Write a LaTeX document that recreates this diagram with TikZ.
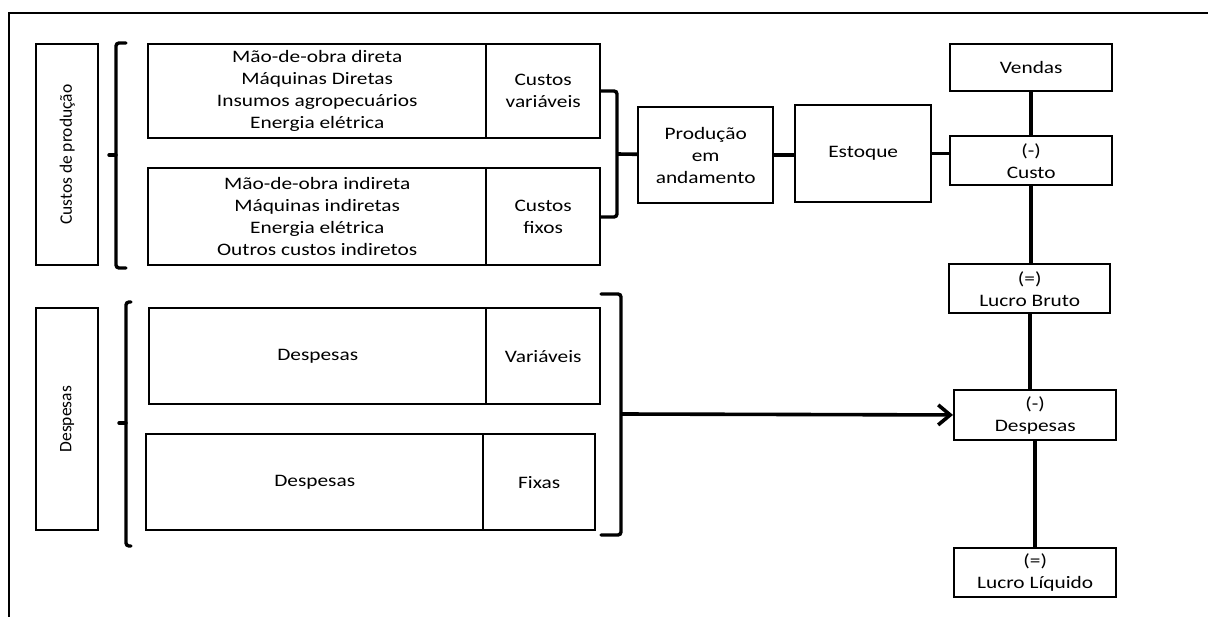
\documentclass[tikz,border=0pt]{standalone}
\usepackage{fontspec}
\setmainfont{Carlito}[FakeStretch=1.22]
\newfontfamily\rotfont{Carlito}
\usepackage{graphicx}
\usetikzlibrary{arrows.meta}
\begin{document}
\begin{tikzpicture}[x=1pt,y=-1pt,
  box/.style={draw, line width=2.4pt, inner sep=0pt, align=center, anchor=north west,
    font=\fontsize{17.5}{22}\selectfont},
  conn/.style={line width=3.6pt},
  brk/.style={line width=3.4pt, rounded corners=3pt, line cap=round}]
\useasboundingbox (0,0) rectangle (1208,617);
\draw[line width=1.5pt] (9,617) -- (9,13) -- (1208,13);
% left labels
\node[box, minimum width=62pt, minimum height=221pt] (cp) at (35,43) {\rotatebox{90}{\rotfont Custos de produção}};
\node[box, minimum width=62pt, minimum height=222pt] (dp) at (35,307) {\rotatebox{90}{\rotfont Despesas}};
% production cost boxes
\node[box, minimum width=338pt, minimum height=94pt] (a1) at (147,43) {Mão-de-obra direta\\Máquinas Diretas\\Insumos agropecuários\\Energia elétrica};
\node[box, minimum width=114pt, minimum height=94pt] (a2) at (485,43) {Custos\\variáveis};
\node[box, minimum width=338pt, minimum height=97pt] (b1) at (147,167) {Mão-de-obra indireta\\Máquinas indiretas\\Energia elétrica\\Outros custos indiretos};
\node[box, minimum width=114pt, minimum height=97pt] (b2) at (485,167) {Custos\\fixos};
% expense boxes
\node[box, minimum width=337pt, minimum height=96pt] (c1) at (148,307) {Despesas};
\node[box, minimum width=114pt, minimum height=96pt] (c2) at (485,307) {Variáveis};
\node[box, minimum width=337pt, minimum height=96pt] (d1) at (145,433) {Despesas};
\node[box, minimum width=112pt, minimum height=96pt] (d2) at (482,433) {Fixas};
% flow boxes
\node[box, minimum width=135pt, minimum height=96pt] (prod) at (637,106) {Produção\\em\\andamento};
\node[box, minimum width=136pt, minimum height=97pt] (est) at (794,104) {Estoque};
\node[box, minimum width=162pt, minimum height=47pt] (vendas) at (949,43) {Vendas};
\node[box, minimum width=162pt, minimum height=49pt] (custo) at (949,135) {(-)\\Custo};
\node[box, minimum width=161pt, minimum height=49pt] (lb) at (948,263) {(=)\\Lucro Bruto};
\node[box, minimum width=162pt, minimum height=50pt] (desp) at (953,389) {(-)\\Despesas};
\node[box, minimum width=162pt, minimum height=49pt] (ll) at (953,547) {(=)\\Lucro Líquido};
% brackets
\draw[brk] (126,43) -- (116,43) -- (116,268) -- (126,268);
\draw[brk] (116,155) -- (109,155);
\draw[brk] (131,302) -- (126,302) -- (126,546) -- (131,546);
\draw[brk] (126,423) -- (119,423);
\draw[brk] (601,91) -- (617,91) -- (617,217) -- (601,217);
\draw[brk] (601,294) -- (621,294) -- (621,535) -- (601,535);
\coordinate (br1) at (617,154);
\coordinate (br2) at (621,414);
% connectors
\draw[conn] (br1) -- (prod);
\draw[conn] (prod.east) -- (prod.east -| est.west);
\draw[conn] (est.east) -- (est.east -| custo.west);
\draw[conn] (vendas) -- (custo);
\draw[conn] (custo.south) -- (custo.south |- lb.north);
\draw[conn] (lb.south) -- (lb.south |- desp.north);
\draw[conn] (desp.south) -- (ll.north);
\draw[conn, -{Straight Barb[length=12pt,width=20pt]}] (br2) -- (desp);
\end{tikzpicture}
\end{document}
